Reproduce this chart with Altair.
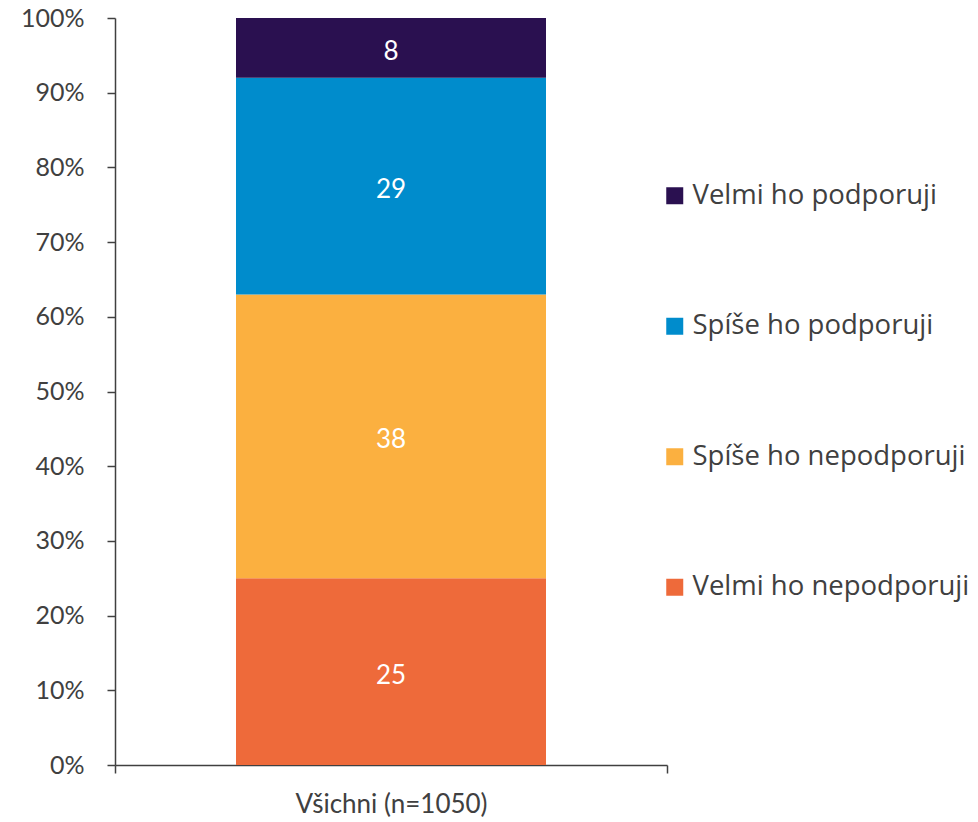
import altair as alt
import pandas as pd

categories = ["Všichni (n=1050)"]
series = ["Velmi ho nepodporuji", "Spíše ho nepodporuji", "Spíše ho podporuji", "Velmi ho podporuji"]
values = [25, 38, 29, 8]
colors = ["#EE6A3A", "#FBB040", "#008CCC", "#2A1050"]
y_ticks = list(range(0, 101, 10))

df = pd.DataFrame({
    "kategorie": categories * len(series),
    "odpoved": series,
    "hodnota": values,
    "poradi": list(range(len(series))),
})

base = alt.Chart(df).transform_stack(
    stack="hodnota",
    groupby=["kategorie"],
    as_=["y0", "y1"],
    sort=[alt.SortField("poradi", order="ascending")],
).transform_calculate(ymid="(datum.y0 + datum.y1) / 2")

x_enc = alt.X(
    "kategorie:N",
    title=None,
    scale=alt.Scale(paddingInner=0, paddingOuter=0),
    axis=alt.Axis(
        labelAngle=0, tickBand="extent", tickSize=8, labelPadding=18,
        labelFont="Lato", labelFontSize=26, labelColor="#404040", labelLimit=600,
        domainColor="#404040", tickColor="#404040", domainWidth=1.5, tickWidth=1.5,
    ),
)

y_scale = alt.Scale(domain=[0, 100], nice=False)

bars = base.mark_bar(width=310).encode(
    x=x_enc,
    y=alt.Y(
        "y0:Q", title=None, scale=y_scale,
        axis=alt.Axis(
            values=y_ticks, labelExpr="datum.value + '%'", grid=False,
            tickSize=8, labelPadding=23, labelFont="Lato", labelFontSize=25,
            labelColor="#404040", domainColor="#404040", tickColor="#404040",
            domainWidth=1.5, tickWidth=1.5,
        ),
    ),
    y2="y1:Q",
    color=alt.Color(
        "odpoved:N",
        scale=alt.Scale(domain=series[::-1], range=colors[::-1]),
        legend=alt.Legend(
            title=None, orient="none", legendX=546, legendY=164,
            symbolType="square", symbolSize=289, symbolStrokeWidth=0,
            labelFont="Open Sans", labelFontSize=27.5, labelColor="#404040",
            labelOffset=4, rowPadding=101.5, padding=0, labelLimit=400,
        ),
    ),
)

labels = base.mark_text(font="Lato", fontSize=26, color="white", dy=4).encode(
    x=alt.X("kategorie:N"),
    y=alt.Y("ymid:Q", scale=y_scale),
    text=alt.Text("hodnota:Q"),
)

chart = alt.layer(bars, labels).properties(
    width=552, height=747,
    background="white",
    autosize=alt.AutoSizeParams(type="none"),
    padding={"left": 107, "top": 10, "right": 303, "bottom": 56},
).configure_view(stroke=None, strokeWidth=0)

chart.save("out.html", embed_options={"renderer": "svg", "actions": False})
